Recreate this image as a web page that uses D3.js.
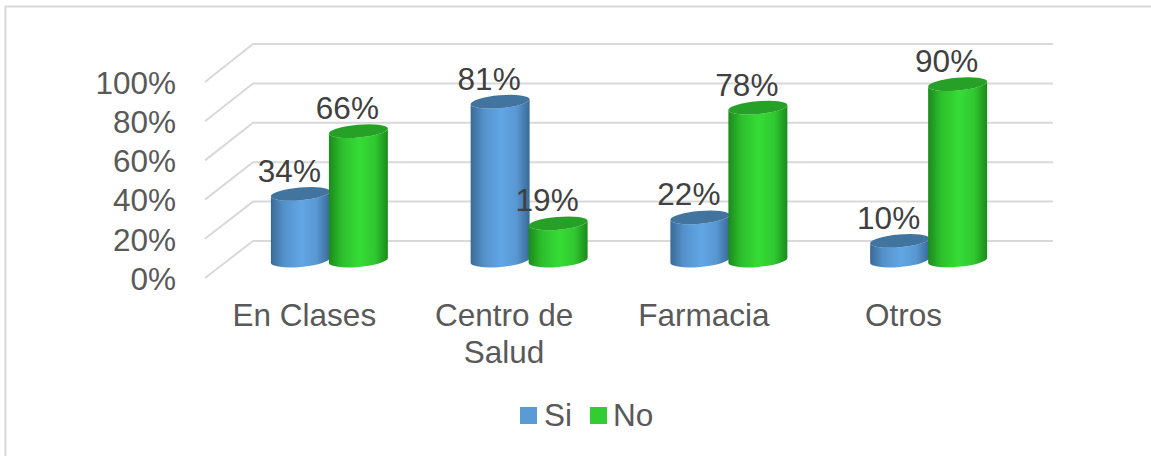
<!DOCTYPE html>
<html><head><meta charset="utf-8">
<script src="https://cdn.jsdelivr.net/npm/d3@7/dist/d3.min.js"></script>
<style>html,body{margin:0;padding:0;background:#fff}svg{display:block}text{font-family:"Liberation Sans",Arial,sans-serif}</style>
</head><body><svg id="c" width="1151" height="456"></svg>
<script>
const categories = [["En Clases"],["Centro de","Salud"],["Farmacia"],["Otros"]];
const seriesNames = ["Si","No"];
const siValues = [34,81,22,10];
const noValues = [66,19,78,90];
const tickValues = [0,20,40,60,80,100];
const seriesColors = ["#5b9bd5","#32cd32"];

const W=1151,H=456;
const svg=d3.select("#c");
const defs=svg.append("defs");
const grads=[["#3a6a96","#62a6e6","#3a6a96"],["#1c8a1c","#36dc36","#1c8a1c"]];
const tops=["#41749f","#27a027"];
grads.forEach((g,i)=>{
  const lg=defs.append("linearGradient").attr("id","g"+i);
  lg.append("stop").attr("offset","0%").attr("stop-color",g[0]);
  lg.append("stop").attr("offset","22%").attr("stop-color",d3.interpolateRgb(g[0],g[1])(.65));
  lg.append("stop").attr("offset","52%").attr("stop-color",g[1]);
  lg.append("stop").attr("offset","78%").attr("stop-color",d3.interpolateRgb(g[0],g[1])(.75));
  lg.append("stop").attr("offset","100%").attr("stop-color",g[2]);
});
// frame
svg.append("path").attr("d","M5.5,456V6.5H1151").attr("fill","none").attr("stroke","#d9d9d9").attr("stroke-width",2);

// scales
const yBack=d3.scaleLinear().domain([0,100]).range([241,44]);
const yFront=d3.scaleLinear().domain([0,100]).range([278,82]);
const yBar=d3.scaleLinear().domain([0,100]).range([260.5,64.5]);
const xLabel=d3.scaleBand().domain(d3.range(categories.length)).range([205,1004]);
const xGroup=d3.scaleBand().domain(d3.range(categories.length)).range([230,1029]);
const xBar=(c,s)=>xGroup(c)+xGroup.bandwidth()/2+(s===0?-29:29)-0.5;

// grid
const grid=svg.append("g").attr("fill","none").attr("stroke","#d9d9d9").attr("stroke-width",2);
tickValues.forEach(t=>{
  grid.append("path").attr("d",`M205,${yFront(t)}L253,${yBack(t)}H1053`);
});
// y axis
const axis=d3.axisLeft(yFront).tickValues(tickValues).tickSize(0).tickPadding(0).tickFormat(d=>d+"%");
const ax=svg.append("g").attr("transform","translate(176,0)").call(axis);
ax.select(".domain").remove();
ax.selectAll("text").attr("font-size",31.5).attr("fill","#595959").attr("dy","0.36em").style("font-family",'"Liberation Sans"');

// cylinders
const ang=-5*Math.PI/180, rx=29.6, ry=6.4;
function ends(cx,cy){const dx=rx*Math.cos(ang),dy=rx*Math.sin(ang);return {lx:cx-dx,ly:cy-dy,rx_:cx+dx,ry_:cy+dy};}
[siValues,noValues].forEach((vals,s)=>{
  vals.forEach((v,c)=>{
    const cx=xBar(c,s), yt=yBar(v), yb=yBar(0);
    const t=ends(cx,yt), b=ends(cx,yb);
    const deg=ang*180/Math.PI;
    svg.append("path")
      .attr("d",`M${t.lx},${t.ly}L${b.lx},${b.ly}A${rx},${ry} ${deg} 0 0 ${b.rx_},${b.ry_}L${t.rx_},${t.ry_}A${rx},${ry} ${deg} 0 1 ${t.lx},${t.ly}Z`)
      .attr("fill",`url(#g${s})`);
    svg.append("ellipse").attr("cx",cx).attr("cy",yt).attr("rx",rx).attr("ry",ry)
      .attr("transform",`rotate(${deg} ${cx} ${yt})`).attr("fill",tops[s]);
  });
});
// data labels
[siValues,noValues].forEach((vals,s)=>{
  vals.forEach((v,c)=>{
    svg.append("text").attr("x",xBar(c,s)-11).attr("y",yBar(v)-12)
      .attr("text-anchor","middle").attr("font-size",31.5).attr("fill","#404040").text(v+"%");
  });
});
// categories
categories.forEach((lines,c)=>{
  lines.forEach((l,i)=>{
    svg.append("text").attr("x",xLabel(c)+xLabel.bandwidth()/2-0.5).attr("y",326+i*37)
      .attr("text-anchor","middle").attr("font-size",31.5).attr("fill","#595959").text(l);
  });
});
// legend
const lx=[520,590];
seriesNames.forEach((n,i)=>{
  svg.append("rect").attr("x",lx[i]).attr("y",407).attr("width",17).attr("height",17).attr("fill",seriesColors[i]);
  svg.append("text").attr("x",lx[i]+(i?23:24)).attr("y",426).attr("font-size",31.5).attr("fill","#595959").text(n);
});
</script></body></html>
